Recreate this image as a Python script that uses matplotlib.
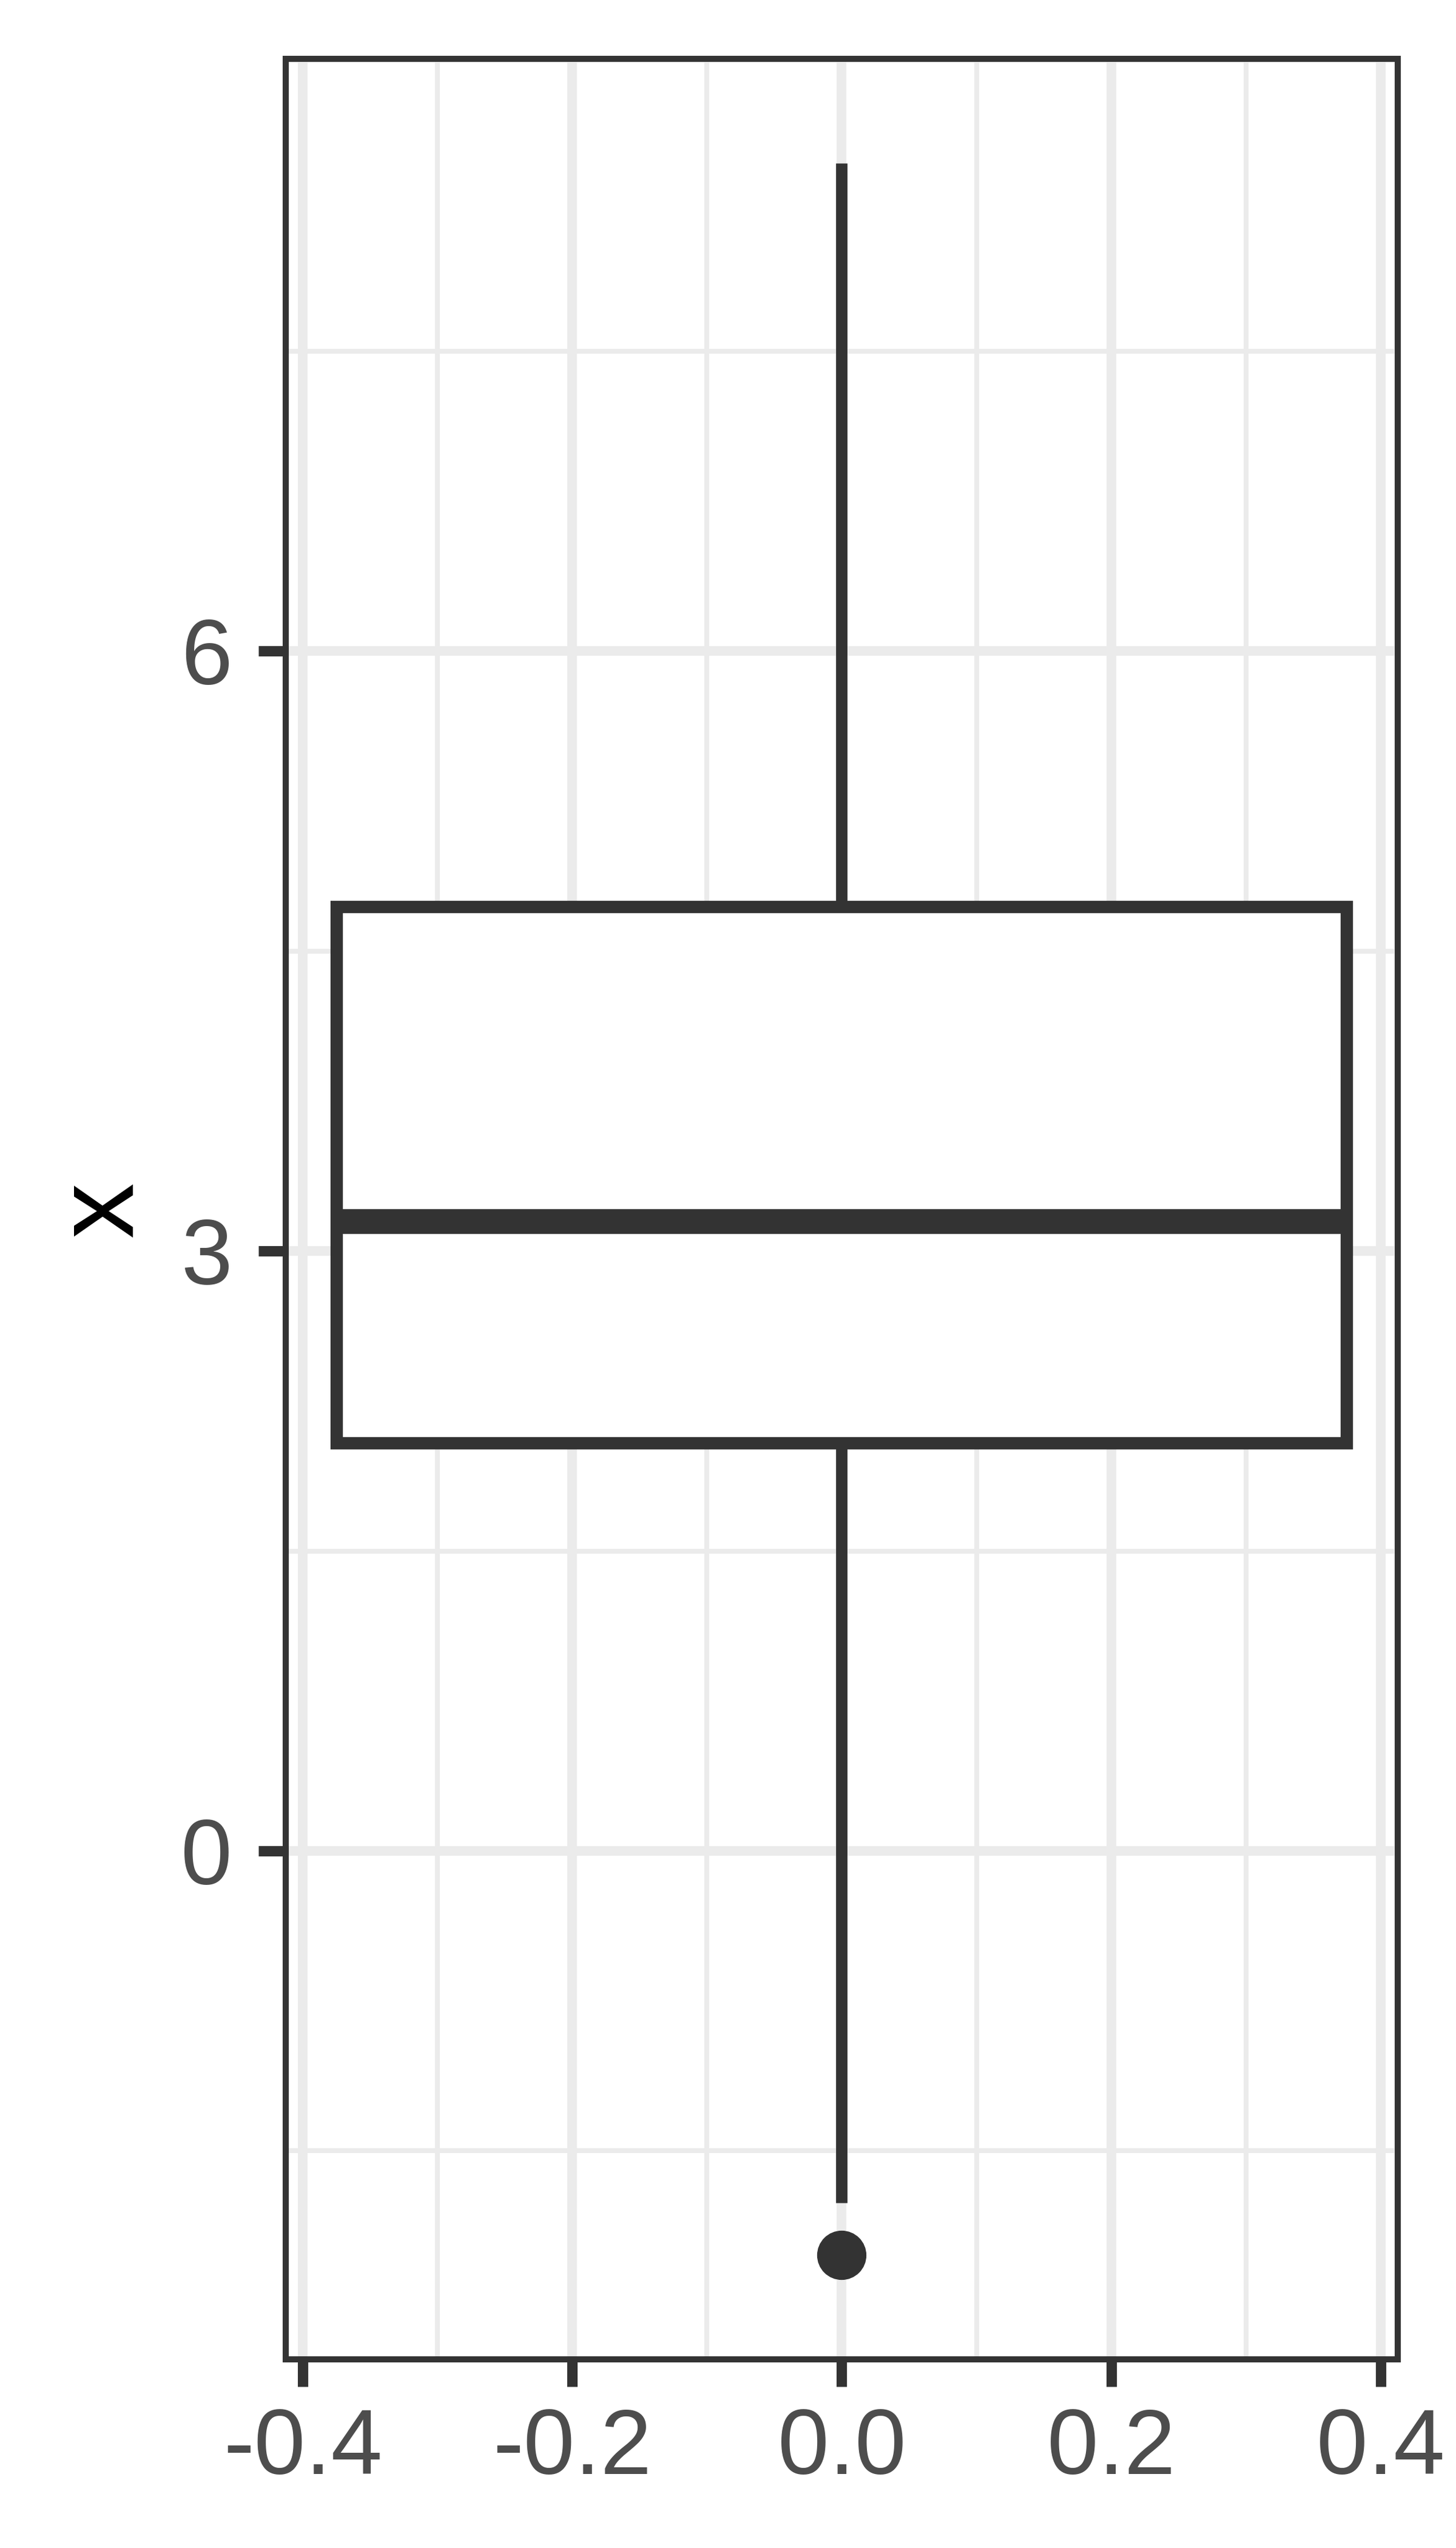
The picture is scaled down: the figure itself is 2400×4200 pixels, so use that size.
import matplotlib
matplotlib.use("Agg")
import matplotlib.pyplot as plt
from matplotlib.ticker import MultipleLocator, FuncFormatter

plt.rcParams["font.family"] = ["Liberation Sans", "DejaVu Sans"]

# boxplot summary
whisker_low = -1.76
q1 = 2.04
median = 3.15
q3 = 4.72
whisker_high = 8.44
outliers = [-2.02]

x_ticks = [-0.4, -0.2, 0.0, 0.2, 0.4]
y_ticks = [0, 3, 6]

LINE = "#333333"
GRID = "#EBEBEB"
TICKTXT = "#4D4D4D"

fig = plt.figure(figsize=(8, 14), dpi=300)
ax = fig.add_axes([0.1964, 0.074, 0.7634, 0.903])

stats = [dict(med=median, q1=q1, q3=q3, whislo=whisker_low,
              whishi=whisker_high, fliers=outliers)]
ax.bxp(stats, positions=[0], widths=0.75, showcaps=False, patch_artist=True,
       boxprops=dict(facecolor="white", edgecolor=LINE, linewidth=4.9),
       whiskerprops=dict(color=LINE, linewidth=4.5, solid_capstyle="butt"),
       medianprops=dict(color=LINE, linewidth=9.8, solid_capstyle="butt"),
       flierprops=dict(marker="o", markerfacecolor=LINE, markeredgecolor=LINE,
                       markersize=18.5, markeredgewidth=1),
       zorder=3)

# ggplot style expansion
lo = min(min(outliers), whisker_low)
hi = whisker_high
pad = (hi - lo) * 0.05
ax.set_ylim(lo - pad, hi + pad)
ax.set_xlim(-0.375 - 0.0375, 0.375 + 0.0375)

ax.set_xticks(x_ticks)
ax.set_yticks(y_ticks)
ax.xaxis.set_major_formatter(FuncFormatter(lambda v, p: f"{v:.1f}".replace("-0.0", "0.0")))
ax.yaxis.set_major_formatter(FuncFormatter(lambda v, p: f"{v:g}"))
ax.xaxis.set_minor_locator(MultipleLocator(0.1))
ax.yaxis.set_minor_locator(MultipleLocator(1.5))

ax.grid(which="major", color=GRID, linewidth=3.8, zorder=0)
ax.grid(which="minor", color=GRID, linewidth=1.9, zorder=0)
ax.set_axisbelow(True)

ax.tick_params(which="major", length=10.8, width=4.1, color=LINE,
               labelsize=36.5, labelcolor=TICKTXT, pad=8)
ax.tick_params(axis="y", which="major", pad=10.5)
ax.tick_params(which="minor", length=0)
for s in ax.spines.values():
    s.set_color(LINE)
    s.set_linewidth(2.4)
    s.set_zorder(5)

ax.set_xlabel("")
ax.set_ylabel("x", fontsize=44, color="black", labelpad=10)

fig.savefig("out.png", dpi=300, facecolor="white")
